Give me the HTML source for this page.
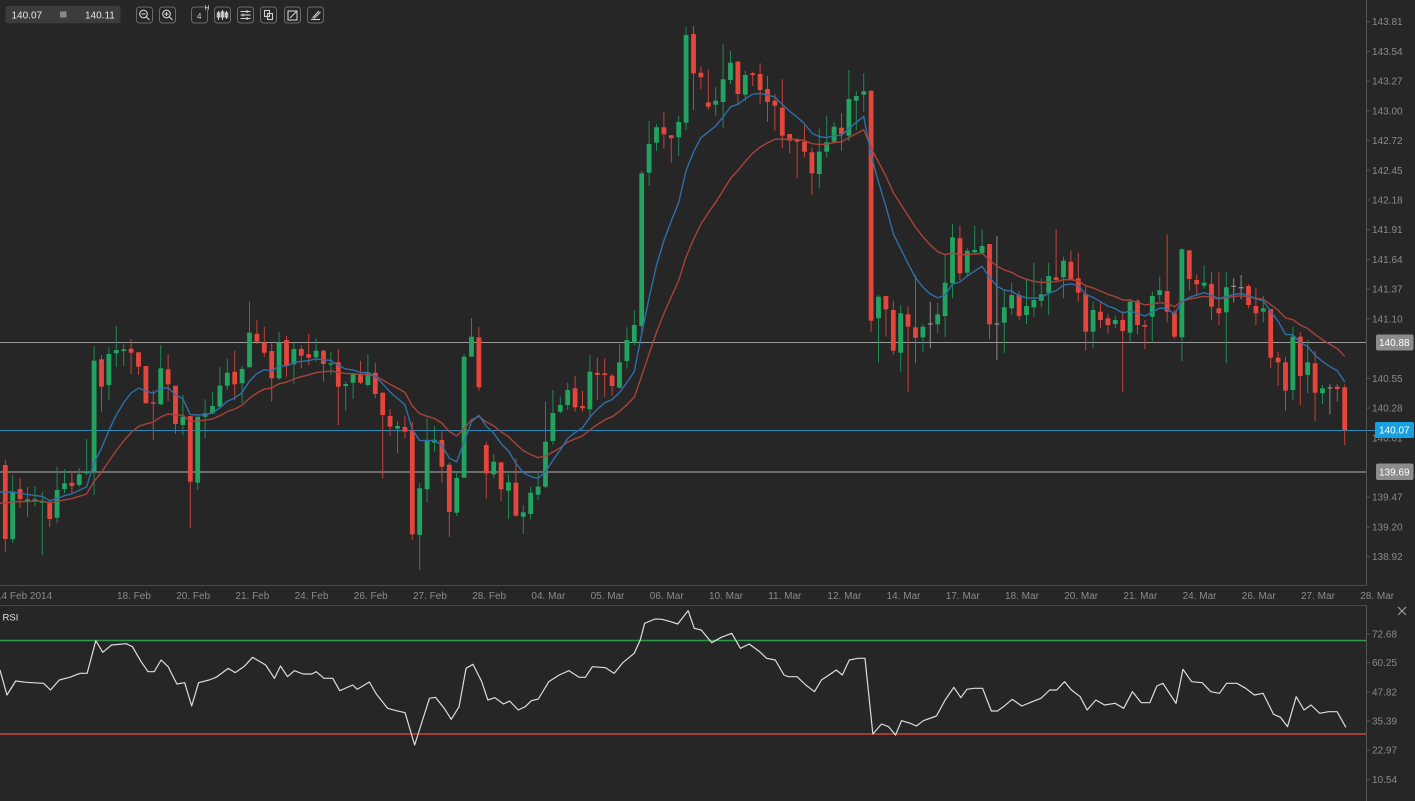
<!DOCTYPE html>
<html><head><meta charset="utf-8">
<style>
html,body{margin:0;padding:0;background:#262626;width:1415px;height:801px;overflow:hidden;}
svg{display:block;}
text{font-family:"Liberation Sans",Arial,sans-serif;}
</style></head>
<body>
<svg id="c" width="1415" height="801" viewBox="0 0 1415 801" xmlns="http://www.w3.org/2000/svg">
<rect width="1415" height="801" fill="#262626"/>

<!-- toolbar -->
<rect x="5.5" y="6" width="115" height="17.3" rx="2.5" fill="#3c3c3c"/>
<text x="11.5" y="18.6" font-size="10" fill="#e6e6e6">140.07</text>
<rect x="60" y="11.5" width="6.5" height="6" fill="#8a8a8a"/>
<text x="85" y="18.6" font-size="10" fill="#e6e6e6">140.11</text>
<g fill="none" stroke="#6a6a6a" stroke-width="1">
<rect x="136.5" y="7" width="16" height="16" rx="3"/>
<rect x="159.5" y="7" width="16" height="16" rx="3"/>
<rect x="191.5" y="7" width="16" height="16" rx="3"/>
<rect x="214.5" y="7" width="16" height="16" rx="3"/>
<rect x="237.5" y="7" width="16" height="16" rx="3"/>
<rect x="260.5" y="7" width="16" height="16" rx="3"/>
<rect x="284.5" y="7" width="16" height="16" rx="3"/>
<rect x="307.5" y="7" width="16" height="16" rx="3"/>
</g>
<g fill="none" stroke="#cfcfcf" stroke-width="1.1">
<circle cx="143.5" cy="14" r="3.8"/><line x1="146.3" y1="16.8" x2="149.5" y2="20"/><line x1="141.5" y1="14" x2="145.5" y2="14"/>
<circle cx="166.5" cy="14" r="3.8"/><line x1="169.3" y1="16.8" x2="172.5" y2="20"/><line x1="164.5" y1="14" x2="168.5" y2="14"/><line x1="166.5" y1="12" x2="166.5" y2="16"/>
<line x1="218.5" y1="11" x2="218.5" y2="20"/><line x1="222.5" y1="10" x2="222.5" y2="20"/><line x1="226.5" y1="11" x2="226.5" y2="19"/>
<rect x="217.3" y="13" width="2.4" height="4"/><rect x="221.3" y="12" width="2.4" height="5"/><rect x="225.3" y="13" width="2.4" height="4"/>
<line x1="240.5" y1="11.5" x2="250.5" y2="11.5"/><line x1="240.5" y1="15" x2="250.5" y2="15"/><line x1="240.5" y1="18.5" x2="250.5" y2="18.5"/>
<line x1="247" y1="10" x2="247" y2="13"/><line x1="243" y1="13.5" x2="243" y2="16.5"/><line x1="247" y1="17" x2="247" y2="20"/>
<rect x="264.5" y="10.5" width="5" height="6"/><rect x="267.5" y="13.5" width="5" height="6"/>
<rect x="288" y="11" width="9" height="9"/><line x1="290" y1="18" x2="297" y2="11"/>
<line x1="311" y1="19.5" x2="320" y2="19.5"/><line x1="312.5" y1="18" x2="319" y2="11"/><line x1="314" y1="18.5" x2="320.5" y2="12"/>
</g>
<text x="197" y="19" font-size="8" fill="#cfcfcf">4</text>
<text x="204.5" y="10" font-size="7" fill="#cfcfcf">H</text>

<!-- level lines -->
<line x1="0" y1="342.5" x2="1366" y2="342.5" stroke="#9a9a9a" stroke-width="1"/>
<line x1="0" y1="430.5" x2="1375" y2="430.5" stroke="#2a8ab8" stroke-width="1"/>
<line x1="0" y1="472" x2="1366" y2="472" stroke="#6c6c6c" stroke-width="2"/>

<g id="candles"></g>
<polyline id="emaR" fill="none" stroke="#a8423a" stroke-width="1.4" points=""/>
<polyline id="emaB" fill="none" stroke="#2f6fa8" stroke-width="1.4" points=""/>

<!-- panel borders -->
<line x1="0" y1="585.5" x2="1366.5" y2="585.5" stroke="#4a4a4a" stroke-width="1"/>
<line x1="1366.5" y1="0" x2="1366.5" y2="585.5" stroke="#555" stroke-width="1"/>
<line x1="0" y1="605.5" x2="1366.5" y2="605.5" stroke="#4a4a4a" stroke-width="1"/>
<line x1="1366.5" y1="605.5" x2="1366.5" y2="801" stroke="#555" stroke-width="1"/>

<!-- right axis ticks -->
<g stroke="#555" stroke-width="1">
<line x1="1367" y1="21.7" x2="1370" y2="21.7"/><line x1="1367" y1="51.4" x2="1370" y2="51.4"/><line x1="1367" y1="81.1" x2="1370" y2="81.1"/><line x1="1367" y1="110.9" x2="1370" y2="110.9"/><line x1="1367" y1="140.6" x2="1370" y2="140.6"/><line x1="1367" y1="170.3" x2="1370" y2="170.3"/><line x1="1367" y1="200" x2="1370" y2="200"/><line x1="1367" y1="229.7" x2="1370" y2="229.7"/><line x1="1367" y1="259.5" x2="1370" y2="259.5"/><line x1="1367" y1="289.2" x2="1370" y2="289.2"/><line x1="1367" y1="318.9" x2="1370" y2="318.9"/><line x1="1367" y1="378.4" x2="1370" y2="378.4"/><line x1="1367" y1="408.1" x2="1370" y2="408.1"/><line x1="1367" y1="497.2" x2="1370" y2="497.2"/><line x1="1367" y1="527" x2="1370" y2="527"/><line x1="1367" y1="556.7" x2="1370" y2="556.7"/>
<line x1="1367" y1="634" x2="1370" y2="634"/><line x1="1367" y1="662.7" x2="1370" y2="662.7"/><line x1="1367" y1="692" x2="1370" y2="692"/><line x1="1367" y1="721" x2="1370" y2="721"/><line x1="1367" y1="750" x2="1370" y2="750"/><line x1="1367" y1="779.7" x2="1370" y2="779.7"/>
</g>

<!-- price labels -->
<g font-size="10" fill="#8a8a8a">
<text x="1372" y="25.2">143.81</text>
<text x="1372" y="54.9">143.54</text>
<text x="1372" y="84.6">143.27</text>
<text x="1372" y="114.4">143.00</text>
<text x="1372" y="144.1">142.72</text>
<text x="1372" y="173.8">142.45</text>
<text x="1372" y="203.5">142.18</text>
<text x="1372" y="233.2">141.91</text>
<text x="1372" y="263">141.64</text>
<text x="1372" y="292.7">141.37</text>
<text x="1372" y="322.4">141.10</text>
<text x="1372" y="381.9">140.55</text>
<text x="1372" y="411.6">140.28</text>
<text x="1372" y="441.3">140.01</text>
<text x="1372" y="500.7">139.47</text>
<text x="1372" y="530.5">139.20</text>
<text x="1372" y="560.2">138.92</text>
</g>
<rect x="1376" y="334.5" width="37.5" height="16" rx="2" fill="#8c8c8c"/>
<text x="1379" y="346" font-size="10" fill="#ffffff">140.88</text>
<rect x="1375" y="422" width="39" height="16" rx="1.5" fill="#17a0df"/>
<text x="1379" y="433.5" font-size="10" fill="#ffffff">140.07</text>
<rect x="1376" y="463.5" width="37.5" height="16.5" rx="2" fill="#8c8c8c"/>
<text x="1379" y="475.5" font-size="10" fill="#ffffff">139.69</text>

<!-- x labels -->
<g font-size="10" fill="#8a8a8a">
<text x="-4" y="599">14 Feb 2014</text>
<text x="117" y="599">18. Feb</text>
<text x="176.2" y="599">20. Feb</text>
<text x="235.4" y="599">21. Feb</text>
<text x="294.6" y="599">24. Feb</text>
<text x="353.8" y="599">26. Feb</text>
<text x="413" y="599">27. Feb</text>
<text x="472.2" y="599">28. Feb</text>
<text x="531.4" y="599">04. Mar</text>
<text x="590.6" y="599">05. Mar</text>
<text x="649.8" y="599">06. Mar</text>
<text x="709" y="599">10. Mar</text>
<text x="768.2" y="599">11. Mar</text>
<text x="827.4" y="599">12. Mar</text>
<text x="886.6" y="599">14. Mar</text>
<text x="945.8" y="599">17. Mar</text>
<text x="1005" y="599">18. Mar</text>
<text x="1064.2" y="599">20. Mar</text>
<text x="1123.4" y="599">21. Mar</text>
<text x="1182.6" y="599">24. Mar</text>
<text x="1241.8" y="599">26. Mar</text>
<text x="1301" y="599">27. Mar</text>
<text x="1360.2" y="599">28. Mar</text>
</g>

<!-- RSI panel -->
<text x="2.5" y="620.5" font-size="9.5" fill="#e0e0e0">RSI</text>
<g stroke="#9a9a9a" stroke-width="1.2"><line x1="1398" y1="607" x2="1406" y2="615"/><line x1="1406" y1="607" x2="1398" y2="615"/></g>
<line x1="0" y1="640.5" x2="1366" y2="640.5" stroke="#2f9a4a" stroke-width="1.4"/>
<line x1="0" y1="734" x2="1366" y2="734" stroke="#a23d36" stroke-width="2"/>
<g transform="matrix(0.8711,0,0,0.33333,0,600)">
<polyline fill="none" stroke="#dcdcdc" stroke-width="1.2" vector-effect="non-scaling-stroke" stroke-linejoin="round" points="0,210 8,285 18,243 30,247 50,250 58,270 68,240 80,232 92,220 100,220 110,122 118,157 128,135 145,131 152,140 162,185 170,215 177,215 185,180 193,200 203,252 212,248 220,318 228,248 240,240 248,232 262,205 270,218 280,200 290,172 305,195 315,235 322,198 330,230 338,212 348,222 358,222 363,215 372,235 382,235 390,272 405,255 410,268 424,246 432,282 445,325 455,332 465,338 476,435 493,295 500,292 510,325 518,358 527,320 535,205 543,193 553,245 560,300 568,293 578,312 585,303 595,330 603,320 610,302 618,297 630,245 642,225 653,212 665,232 672,232 680,200 695,203 705,220 715,188 728,160 735,120 740,70 752,57 760,58 770,65 778,72 790,32 797,85 805,90 817,128 828,112 840,100 850,145 860,132 872,155 880,175 890,180 900,225 905,230 915,230 925,255 935,275 943,240 950,228 960,210 967,225 975,180 985,175 993,175 1002,402 1012,372 1020,380 1028,405 1035,362 1045,370 1052,378 1060,362 1075,348 1085,300 1095,262 1103,293 1110,268 1118,265 1128,265 1138,333 1145,333 1152,320 1162,298 1173,318 1185,305 1195,295 1205,270 1213,270 1222,245 1230,270 1240,290 1248,330 1258,300 1268,315 1280,310 1290,325 1300,275 1310,308 1320,308 1328,258 1335,250 1345,290 1350,310 1358,208 1368,245 1380,248 1390,275 1400,280 1408,250 1420,250 1430,265 1440,285 1450,280 1462,343 1470,352 1478,380 1488,290 1497,330 1505,315 1515,340 1525,335 1535,335 1545,382"/>
</g>
<text x="1372" y="637.5" font-size="10" fill="#8a8a8a">72.68</text>
<text x="1372" y="666.2" font-size="10" fill="#8a8a8a">60.25</text>
<text x="1372" y="695.5" font-size="10" fill="#8a8a8a">47.82</text>
<text x="1372" y="724.5" font-size="10" fill="#8a8a8a">35.39</text>
<text x="1372" y="753.5" font-size="10" fill="#8a8a8a">22.97</text>
<text x="1372" y="783.2" font-size="10" fill="#8a8a8a">10.54</text>
</svg>
<script>
(function(){
var D=[
[465,539,460,552,'r'],[491.7,539.3,475,542.7,'g'],[489,499,478,508,'r'],[499.3,501,487,516.7,'g'],[499.3,501,486,506.7,'g'],
[500.7,502.7,491.7,555,'g'],[502.3,519,500,527.3,'r'],[490,517.7,466.7,523.3,'g'],[483.3,489,469.3,493.3,'g'],[482.7,486,471,493.3,'r'],
[474.3,485,468.3,486.7,'g'],[471.7,473.3,439.3,475,'g'],[360.7,471.7,346,495,'g'],[359.3,386.7,355,411.7,'r'],[354,385,347.3,400,'g'],
[350,353.3,326,367.3,'g'],[349.3,351,344,366,'g'],[348.7,352.7,339.3,374,'r'],[352.3,366.7,352.3,375,'r'],[366,403.3,366,403.3,'r'],
[402.3,403.7,390,440,'r'],[368.3,404.3,345,405,'g'],[369.3,384.3,354.3,401,'r'],[385.7,424,385.7,434,'r'],[416.7,425,395,435.3,'g'],
[416,481.7,416,528.3,'r'],[416.7,482.7,416.7,490,'g'],[413.3,416.7,399.3,438.3,'g'],[406,413.3,391.7,414,'g'],[385.7,406.7,367.3,408.3,'g'],
[372.7,385.7,358.3,390,'g'],[371.7,384.3,351,400,'r'],[369,383.3,366,403.3,'g'],[332.7,367.3,301.7,367.3,'g'],[333.7,341.7,320,344.3,'r'],
[342.7,352.7,326.7,356.7,'r'],[351,378.3,343.3,401.7,'r'],[342.7,378.3,331.7,380,'g'],[340,366,336,376.7,'r'],[349,364.3,342.7,384,'g'],
[349,355.7,345,368.3,'r'],[354.3,357.7,334,365,'r'],[350.7,357.3,338.3,361.7,'g'],[350.7,364,350,381.7,'r'],[363.3,364.7,352,375,'g'],
[362.3,386.7,349,425,'r'],[384,386,381.7,410.7,'g'],[374.3,382.7,372.7,399.3,'g'],[374.3,382.7,360.7,384,'r'],[372.3,385,354.3,386.7,'g'],
[372.7,394,362.7,398.3,'r'],[392.7,415,392.7,478.3,'r'],[416,426.7,409,435.7,'r'],[426,428.7,421,453.3,'g'],[427,431.7,415.7,438.3,'r'],
[430,534.3,421.7,540,'r'],[488.3,535,483.3,570,'g'],[441,489.3,418.3,502.3,'g'],[439.7,442.7,426,451.7,'g'],[440,466.7,430.7,482.7,'r'],
[464.7,512,462.3,536.7,'r'],[478,512.7,471.7,516,'g'],[356.7,477.7,354,477.7,'g'],[336.7,356.7,318.3,356.7,'g'],[337.3,387.3,327.3,390.7,'r'],
[445,473.3,441.7,498.3,'r'],[461.7,474.3,454,478.3,'g'],[462.3,489.3,462.3,501,'r'],[482.3,490.7,474,519.3,'g'],[482.7,515.7,458.3,516.7,'r'],
[512.3,516.7,505,534,'g'],[492.7,514,486.7,519.3,'g'],[486.7,494.7,471.7,500,'g'],[441.7,486.7,401.7,488.3,'g'],[413,441,390,445,'g'],
[405,411.7,396.7,413.3,'g'],[390,405,382.7,410,'g'],[388.3,407.3,376,411.7,'r'],[406,408.3,390.7,411.7,'r'],[371.7,409.3,355,418.3,'g'],
[372.7,375,357.3,400,'r'],[373.3,375,358.3,396.7,'r'],[375.7,386,374,396,'r'],[362.3,387.7,344,388.3,'g'],[340,361,327.3,368.3,'g'],
[325,342.7,310,345,'g'],[173.3,326,170.7,333.3,'g'],[144,172.7,121,186,'g'],[127.3,142.7,124,151,'g'],[127.3,134.3,111.7,148.3,'r'],
[135.3,138.3,135,162.7,'r'],[122,137.3,115.7,156,'g'],[35,122.7,27.3,130,'g'],[34,73.3,26,110,'r'],[72.7,77.3,66.7,89,'r'],
[102.3,106.7,69.3,110,'r'],[100.7,104.7,87.3,115.7,'g'],[79.3,102,44,128.3,'g'],[62.7,80,51,84,'g'],[61.7,94,60.7,104.3,'r'],
[75,94.7,70.7,101,'g'],[73.3,75,71.7,86,'r'],[74,90,63.3,104,'r'],[89,102,76,121.7,'r'],[100.7,105.7,94,130.7,'r'],
[107.7,135.7,79.3,148.3,'r'],[134,140.7,134,153.3,'r'],[140,141.7,138.3,178.3,'r'],[141.7,151.7,125,157.3,'r'],[152.3,173.3,147.7,195,'r'],
[151.7,174,128.3,188.3,'g'],[142.3,151.7,115.7,157.3,'g'],[126.7,141.7,122.3,143.3,'g'],[127.7,134.3,113.3,150.7,'r'],[99,135.7,70,141,'g'],
[96,100.7,90.7,130,'g'],[91.3,94.7,73.3,111.7,'g'],[90.7,320.7,90.7,331.7,'r'],[296.7,318.3,295,362.7,'g'],[296,309.3,296,336.7,'r'],
[310,350.7,300.7,355,'r'],[313.3,352.7,305,371.7,'g'],[314.3,326.7,306.7,391.7,'r'],[327.3,337.7,275,363.3,'r'],[326.7,337.3,324.3,351.7,'g'],
[323.3,324.3,301.7,348.3,'n'],[314.3,324.3,302.7,332.7,'g'],[282.7,316,255,336.7,'g'],[237.3,283.3,224,298.3,'g'],[238.3,273.3,225.7,280,'r'],
[250.7,272.7,248.3,276.7,'g'],[250,252.3,225.7,253.3,'g'],[246,253.3,229.3,254,'g'],[244,324.3,244,339.3,'r'],[323.3,324.3,236,360,'n'],
[307.3,322.7,290.7,352.7,'g'],[295,308.3,282.7,315,'g'],[295,316,291,320,'r'],[306,315,280,324,'g'],[300,307.3,262.7,316.7,'g'],
[294.3,300.7,278.3,307.3,'g'],[276,292.7,262.7,315,'g'],[277.3,280,229.3,281.7,'r'],[260.7,277.3,256.7,298.3,'g'],[261.7,279.3,250.7,280,'r'],
[278.3,292.7,252.7,301.7,'r'],[294,331.7,286.7,350.7,'r'],[310,331.7,301.7,348.3,'g'],[311.7,320,302.7,328.3,'r'],[318.3,325,314.3,333.3,'r'],
[320,324,315.7,328.3,'g'],[320,331,311,391.7,'r'],[301.7,332.7,298.3,341.7,'g'],[300.7,325,299,334.3,'r'],[325,326.7,320,349,'r'],
[296,316.7,291.7,342.3,'g'],[290.3,295,276.7,301,'g'],[291,311.7,234.3,322.3,'r'],[312.7,336.7,310,338.3,'r'],[249.3,337.3,248.3,361,'g'],
[250.3,279,250.3,290.7,'r'],[280,284.3,274.3,295,'r'],[282.7,285.7,265.7,289,'g'],[284,306.7,272.3,320,'r'],[308.3,313.3,272.3,325,'r'],
[287.3,312.3,272.3,363.3,'g'],[285.7,287,278.3,302.3,'n'],[287,288.3,275,299,'n'],[286,305,284.3,308.3,'r'],[306,313.3,287.7,325,'r'],
[308.3,311.7,296,322.3,'g'],[309,357.7,309,368.3,'r'],[357.7,362.3,351.7,386,'r'],[362.3,390.7,356.7,410.7,'r'],[336.7,390,326.7,400,'g'],
[336.7,376,332.3,405,'r'],[362.3,375,340,393.3,'g'],[363.3,392.7,351,421,'r'],[388.3,393.3,385,404,'g'],[387.3,388.3,384.3,414.3,'n'],
[386.7,389,384,401.7,'r'],[387.3,430,384.3,445,'r']
];
var NS='http://www.w3.org/2000/svg';
var g=document.getElementById('candles');
var eb=492,er=503,bl=['0,492'],rd=['0,503'];
for(var i=0;i<D.length;i++){
 var d=D[i],x=5.3+7.4*i,t=d[4];
 var col=t=='g'?'#22a460':(t=='r'?'#e4463b':'#8a8a8a');
 var wc=t=='g'?'#1d8a52':(t=='r'?'#c5413a':'#8a8a8a');
 var w=document.createElementNS(NS,'line');
 w.setAttribute('x1',x);w.setAttribute('x2',x);w.setAttribute('y1',d[2]);w.setAttribute('y2',d[3]);
 w.setAttribute('stroke',wc);w.setAttribute('stroke-width','1');
 g.appendChild(w);
 var r=document.createElementNS(NS,'rect');
 var h=Math.max(d[1]-d[0],1.3);
 r.setAttribute('x',x-2.4);r.setAttribute('y',d[0]);r.setAttribute('width','4.8');r.setAttribute('height',h);
 r.setAttribute('fill',col);
 g.appendChild(r);
 var c=t=='g'?d[0]:(t=='r'?d[1]:(d[0]+d[1])/2);
 if(i>0){eb+=0.19*(c-eb);er+=0.095*(c-er);}
 bl.push(x.toFixed(1)+','+eb.toFixed(1));
 rd.push(x.toFixed(1)+','+er.toFixed(1));
}
document.getElementById('emaB').setAttribute('points',bl.join(' '));
document.getElementById('emaR').setAttribute('points',rd.join(' '));
})();
</script>
</body></html>
